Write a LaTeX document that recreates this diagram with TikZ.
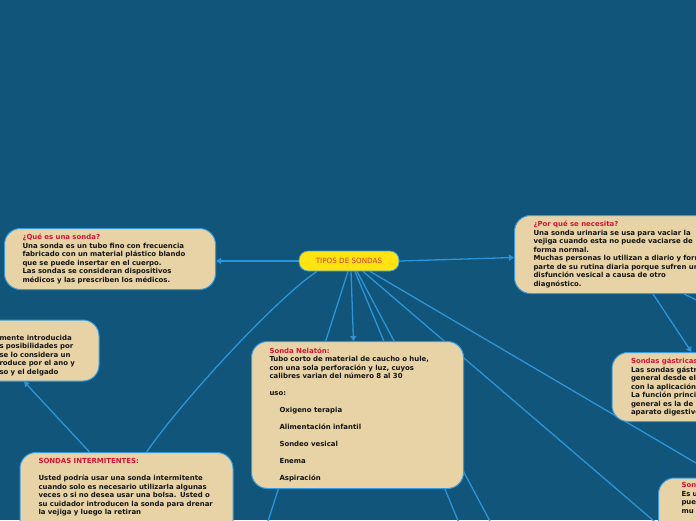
\documentclass[tikz,border=0pt]{standalone}
\usepackage{fontspec}
\setmainfont{DejaVu Sans}
\usepackage{tikz}
\usetikzlibrary{arrows.meta,calc}
\tikzset{>={Triangle[length=5pt,width=6pt]}}
\definecolor{mapbg}{HTML}{11567A}
\definecolor{cardfill}{HTML}{E8D3A6}
\definecolor{cardrim}{HTML}{3A9BDC}
\definecolor{wireblue}{HTML}{2B94D8}
\definecolor{hed}{HTML}{D21434}
\definecolor{hubfill}{HTML}{FFE412}
\definecolor{hubtext}{HTML}{D8362A}
\pgfdeclarelayer{bg}
\pgfdeclarelayer{wires}
\pgfsetlayers{bg,wires,main}
\tikzset{
  cardbox/.style={draw=cardrim,fill=cardfill,line width=1pt,rounded corners=16pt,
    anchor=north west,align=left,inner xsep=0pt,inner ysep=0pt,
    font=\fontsize{6.95}{8.5}\selectfont\bfseries,text=black!92},
  hubbox/.style={draw=cardrim,fill=hubfill,line width=.8pt,rounded corners=9pt,
    minimum width=100pt,minimum height=20pt,font=\fontsize{7.2}{8}\selectfont,text=hubtext},
  link/.style={draw=wireblue,line width=1.3pt},
}
\newcommand{\hed}[1]{\textcolor{hed}{#1}}
\newcommand{\deep}{\rule[-30pt]{0pt}{30pt}}

\begin{document}
\begin{tikzpicture}[x=1pt,y=-1pt]
\useasboundingbox (0,0) rectangle (696,520);
\begin{pgfonlayer}{bg}
\fill[mapbg] (0,0) rectangle (696,520);
\end{pgfonlayer}
% hub and cards
\node[hubbox] (tipos) at (349,261) {TIPOS DE SONDAS};
\node[cardbox,minimum width=211pt,minimum height=61pt,text width=175pt] (que) at (4,228)
  {\hed{¿Qué es una sonda?}\\Una sonda es un tubo fino con frecuencia\\fabricado con un material plástico blando\\que se puede insertar en el cuerpo.\\Las sondas se consideran dispositivos\\médicos y las prescriben los médicos.};
\node[cardbox,minimum width=260pt,minimum height=78pt,text width=222pt] (porque) at (514,215)
  {\hed{¿Por qué se necesita?}\\Una sonda urinaria se usa para vaciar la\\vejiga cuando esta no puede vaciarse de\\forma normal.\\Muchas personas lo utilizan a diario y forman\\parte de su rutina diaria porque sufren una\\disfunción vesical a causa de otro\\diagnóstico.};
\node[cardbox,minimum width=118.5pt,minimum height=61pt,text width=80.5pt] (rectal) at (-20,319.5)
  {\rule{0pt}{15pt}\mbox{mente introducida}\\\mbox{s posibilidades por}\\\mbox{se lo considera un}\\\mbox{roduce por el ano y}\\\mbox{so y el delgado}};
\node[cardbox,minimum width=212pt,minimum height=147pt,text width=176pt] (nelaton) at (251,341)
  {\hed{Sonda Nelatón:}\\Tubo corto de material de caucho o hule,\\con una sola perforación y luz, cuyos\\calibres varian del número 8 al 30\\[8.5pt]uso:\\[8.5pt]\hspace*{10pt}Oxigeno terapia\\[8.5pt]\hspace*{10pt}Alimentación infantil\\[8.5pt]\hspace*{10pt}Sondeo vesical\\[8.5pt]\hspace*{10pt}Enema\\[8.5pt]\hspace*{10pt}Aspiración};
\node[cardbox,minimum width=213pt,text width=176pt,inner ysep=6pt] (intermit) at (19.5,452)
  {\hed{SONDAS INTERMITENTES:}\\[8.5pt]Usted podría usar una sonda intermitente\\cuando solo es necesario utilizarla algunas\\veces o si no desea usar una bolsa. Usted o\\\mbox{su cuidador introducen la sonda para drenar}\\la vejiga y luego la retiran\deep};
\node[cardbox,minimum width=200pt,minimum height=69pt,text width=162pt] (gastricas) at (611.5,352)
  {\hed{Sondas gástricas:}\\Las sondas gástricas\\general desde el\\con la aplicación\\La función principal\\general es la de\\aparato digestivo};
\node[cardbox,minimum width=100pt,text width=54pt,inner ysep=4.5pt] (son) at (658,477.5)
  {\hed{Son}\\Es u\\pue\\mu\deep};
% loose ends beyond the frame
\coordinate (offa) at (262,540);
\coordinate (offb) at (466,540);
\coordinate (offc) at (500,540);
\coordinate (offd) at (676,540);
\coordinate (offe) at (730,483);
\coordinate (offf) at (740,321);
\begin{pgfonlayer}{wires}
\draw[link,->] (tipos.west) -- (tipos.west -| que.east);
\draw[link,->] (tipos.east) -- ([yshift=-3pt]porque.west);
\draw[link] ([xshift=-32pt]tipos.south) .. controls +(-37,24) and +(40,-57) .. ([xshift=20pt]intermit.north);
\draw[link,->] ([xshift=70pt]intermit.north west) -- ([xshift=44pt]rectal.south west);
\draw[link] ([xshift=-1pt]tipos.south) -- (offa);
\draw[link,->] ([xshift=2pt]tipos.south) -- ([xshift=-4pt]nelaton.north);
\draw[link] ([xshift=6pt]tipos.south) -- (offb);
\draw[link] ([xshift=8pt]tipos.south) -- (offc);
\draw[link] ([xshift=14pt]tipos.south) -- (offd);
\draw[link] ([xshift=21pt]tipos.south) -- (offe);
\draw[link,->] ([xshift=139pt]porque.south west) -- ([xshift=80pt]gastricas.north west);
\draw[link] ([xshift=170pt]porque.south west) -- (offf);
\end{pgfonlayer}
\end{tikzpicture}
\end{document}
